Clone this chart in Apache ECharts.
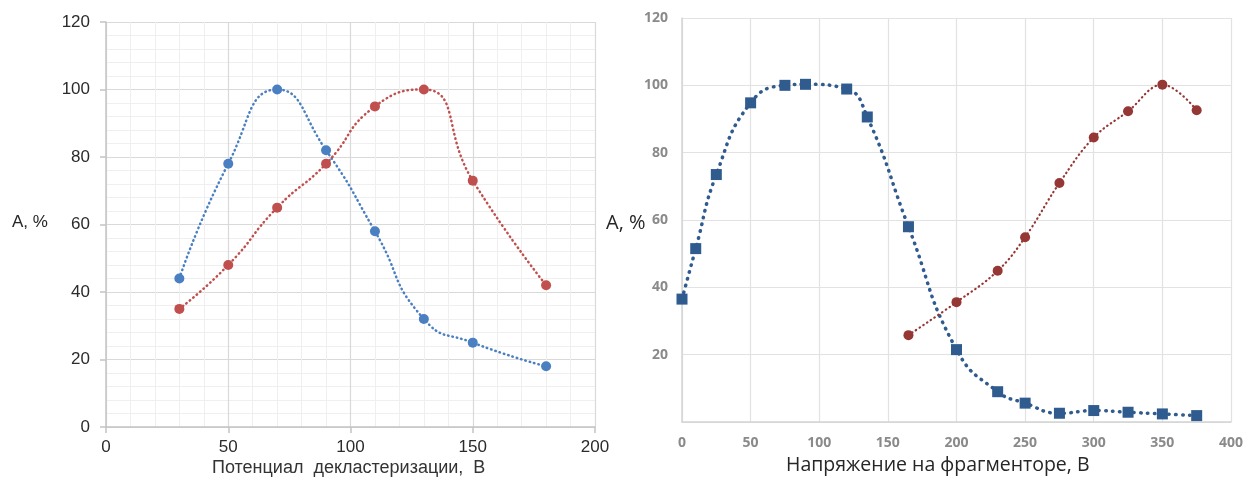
<!DOCTYPE html>
<html>
<head>
<meta charset="utf-8">
<script src="https://cdn.jsdelivr.net/npm/echarts/dist/echarts.min.js"></script>
<style>
html, body { margin: 0; padding: 0; background: #fff; }
#chart { width: 1246px; height: 481px; }
</style>
</head>
<body>
<div id="chart"></div>
<script>
// Declustering potential experiment (left panel)
const declusterX = [30, 50, 70, 90, 110, 130, 150, 180];
const declusterBlue = [44, 78, 100, 82, 58, 32, 25, 18];
const declusterRed = [35, 48, 65, 78, 95, 100, 73, 42];

// Fragmentor voltage experiment (right panel)
const fragBlueX = [0, 10, 25, 50, 75, 90, 120, 135, 165, 200, 230, 250, 275, 300, 325, 350, 375];
const fragBlue = [36.5, 51.5, 73.5, 94.8, 100, 100.3, 98.9, 90.6, 58, 21.5, 9, 5.6, 2.6, 3.4, 2.9, 2.4, 1.9];
const fragRedX = [165, 200, 230, 250, 275, 300, 325, 350, 375];
const fragRed = [25.8, 35.6, 44.9, 54.9, 71, 84.5, 92.3, 100.2, 92.6];

// Axis titles
const yTitle = 'A, %';
const leftXTitle = 'Потенциал  декластеризации,  В';
const rightXTitle = 'Напряжение на фрагменторе, В';

const pairs = (xs, ys) => xs.map((x, i) => [x, ys[i]]);

const leftFont = 'Liberation Sans, Arial, sans-serif';
const rightFont = 'Open Sans, Noto Sans, sans-serif';

const chart = echarts.init(document.getElementById('chart'));

chart.setOption({
  animation: false,
  backgroundColor: '#ffffff',
  grid: [
    { left: 106, top: 22, width: 489, height: 405 },
    { left: 682, top: 18, width: 549, height: 404 }
  ],
  xAxis: [
    {
      gridIndex: 0, type: 'value', min: 0, max: 200, interval: 50,
      axisLine: { show: true, lineStyle: { color: '#c4c4c4', width: 1.5 } },
      axisTick: { show: true, length: 6, lineStyle: { color: '#c4c4c4', width: 1.5 } },
      minorTick: { show: true, splitNumber: 5, length: 0 },
      axisLabel: { fontSize: 17, color: '#2b2b2b', fontFamily: leftFont, margin: 12 },
      splitLine: { show: true, lineStyle: { color: '#d9d9d9', width: 1.2 } },
      minorSplitLine: { show: true, lineStyle: { color: '#efefef', width: 1 } }
    },
    {
      gridIndex: 1, type: 'value', min: 0, max: 400, interval: 50,
      axisLine: { show: true, lineStyle: { color: '#d4d4d4', width: 1.5 } },
      axisTick: { show: false },
      axisLabel: { fontSize: 14, color: '#8a8a8a', fontWeight: 'bold', fontFamily: rightFont, margin: 14 },
      splitLine: { show: true, lineStyle: { color: '#e2e2e2', width: 1.2 } }
    }
  ],
  yAxis: [
    {
      gridIndex: 0, type: 'value', min: 0, max: 120, interval: 20,
      axisLine: { show: true, lineStyle: { color: '#c4c4c4', width: 1.5 } },
      axisTick: { show: true, length: 6, lineStyle: { color: '#c4c4c4', width: 1.5 } },
      minorTick: { show: true, splitNumber: 5, length: 0 },
      axisLabel: { fontSize: 17, color: '#2b2b2b', fontFamily: leftFont, margin: 16 },
      splitLine: { show: true, lineStyle: { color: '#d9d9d9', width: 1.2 } },
      minorSplitLine: { show: true, lineStyle: { color: '#efefef', width: 1 } }
    },
    {
      gridIndex: 1, type: 'value', min: 0, max: 120, interval: 20,
      axisLine: { show: true, lineStyle: { color: '#d4d4d4', width: 1.5 } },
      axisTick: { show: false },
      axisLabel: { fontSize: 14, color: '#8a8a8a', fontWeight: 'bold', fontFamily: rightFont, margin: 14, showMinLabel: false },
      splitLine: { show: true, lineStyle: { color: '#e2e2e2', width: 1.2 } }
    }
  ],
  series: [
    {
      type: 'line', xAxisIndex: 0, yAxisIndex: 0, smooth: 0.55,
      data: pairs(declusterX, declusterBlue),
      symbol: 'circle', symbolSize: 10,
      itemStyle: { color: '#4a7fc1' },
      lineStyle: { color: '#4a7fc1', width: 2.5, type: [0.5, 4], cap: 'round' }
    },
    {
      type: 'line', xAxisIndex: 0, yAxisIndex: 0, smooth: 0.55,
      data: pairs(declusterX, declusterRed),
      symbol: 'circle', symbolSize: 10,
      itemStyle: { color: '#c0504d' },
      lineStyle: { color: '#c0504d', width: 2.5, type: [0.5, 4], cap: 'round' }
    },
    {
      type: 'line', xAxisIndex: 1, yAxisIndex: 1, smooth: 0.5,
      data: pairs(fragBlueX, fragBlue),
      symbol: 'rect', symbolSize: 11,
      itemStyle: { color: '#2f5b8f' },
      lineStyle: { color: '#2f5b8f', width: 3.5, type: [0.5, 6.5], cap: 'round' }
    },
    {
      type: 'line', xAxisIndex: 1, yAxisIndex: 1, smooth: 0.4,
      data: pairs(fragRedX, fragRed),
      symbol: 'circle', symbolSize: 10,
      itemStyle: { color: '#953735' },
      lineStyle: { color: '#953735', width: 2.2, type: [0.5, 4], cap: 'round' }
    }
  ],
  graphic: [
    { type: 'text', left: 12, top: 214,
      style: { text: yTitle, font: '17px ' + leftFont, fill: '#262626' } },
    { type: 'text', left: 212, top: 459,
      style: { text: leftXTitle, font: '18px ' + leftFont, fill: '#333333' } },
    { type: 'text', left: 606, top: 213,
      style: { text: yTitle, font: '20px ' + rightFont, fill: '#262626' } },
    { type: 'text', left: 786, top: 455,
      style: { text: rightXTitle, font: '19.5px ' + rightFont, fill: '#262626' } }
  ]
});
</script>
</body>
</html>
